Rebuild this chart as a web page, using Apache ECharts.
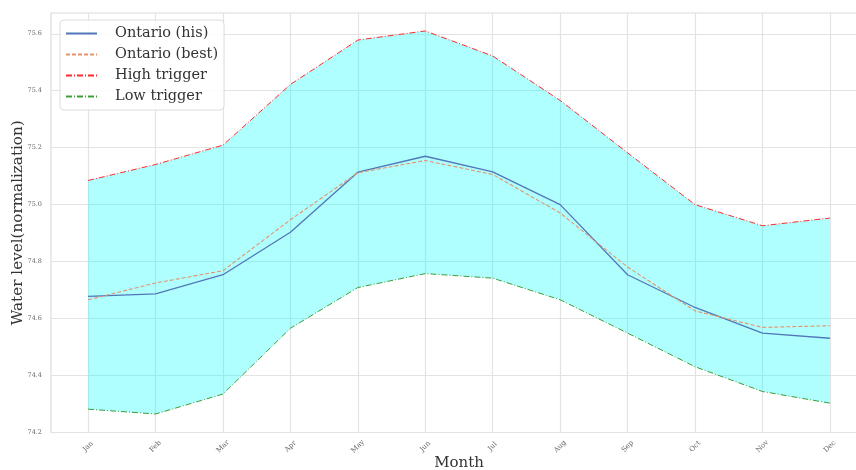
<!DOCTYPE html>
<html>
<head>
<meta charset="utf-8">
<title>Ontario water level</title>
<script src="https://cdn.jsdelivr.net/npm/echarts@6/dist/echarts.min.js"></script>
<style>
    html, body { margin: 0; padding: 0; background: #fff; }
    #levelChart { width: 856px; height: 470px; }
</style>
</head>
<body>
<div id="levelChart"></div>
<script>
// 月份
let months = ['Jan', 'Feb', 'Mar', 'Apr', 'May', 'Jun', 'Jul', 'Aug', 'Sep', 'Oct', 'Nov', 'Dec'];

// 水位数据
let ontarioHis  = [74.678, 74.687, 74.754, 74.903, 75.114, 75.170, 75.115, 75.000, 74.754, 74.639, 74.549, 74.531];
let ontarioBest = [74.666, 74.725, 74.768, 74.947, 75.112, 75.155, 75.106, 74.971, 74.781, 74.627, 74.569, 74.575];
let highTrigger = [75.085, 75.141, 75.209, 75.422, 75.578, 75.610, 75.522, 75.366, 75.182, 75.000, 74.926, 74.953];
let lowTrigger  = [74.282, 74.265, 74.335, 74.566, 74.709, 74.758, 74.742, 74.666, 74.549, 74.431, 74.344, 74.303];

// y 轴刻度
let yTicks = [74.2, 74.4, 74.6, 74.8, 75.0, 75.2, 75.4, 75.6];

function pairs(values) {
    return values.map(function (v, i) { return [i, v]; });
}

let monthIdx = months.map(function (m, i) { return i; });
let bandData = months.map(function (m, i) { return [i, lowTrigger[i], highTrigger[i]]; });

// 高低触发之间的填充, 整个多边形只画一次
function renderBand(params, api) {
    if (params.dataIndex !== 0) {
        return null;
    }
    let points = [];
    for (let i = 0; i < bandData.length; i++) {
        points.push(api.coord([bandData[i][0], bandData[i][2]]));
    }
    for (let i = bandData.length - 1; i >= 0; i--) {
        points.push(api.coord([bandData[i][0], bandData[i][1]]));
    }
    return {
        type: 'polygon',
        shape: { points: points },
        style: { fill: 'rgba(0,255,255,0.31)' },
        silent: true
    };
}

let serif = 'DejaVu Serif';
let myChart = echarts.init(document.getElementById('levelChart'));

let option = {
    backgroundColor: '#fff',
    animation: false,
    grid: {
        left: 51,
        top: 13,
        right: -11,
        bottom: 37.5,
        outerBoundsMode: 'none',
        show: true,
        borderColor: '#dcdcdc',
        borderWidth: 1.2,
        backgroundColor: '#fff'
    },
    legend: {
        orient: 'vertical',
        left: 60,
        top: 20,
        padding: [6, 6, 6, 5],
        itemGap: 6,
        itemWidth: 31,
        itemHeight: 16,
        itemStyle: { opacity: 0 },
        backgroundColor: 'rgba(255,255,255,0.85)',
        borderColor: '#dddddd',
        borderWidth: 1,
        borderRadius: 4,
        textStyle: {
            fontFamily: serif,
            fontSize: 14.5,
            color: '#333',
            padding: [0, 0, 0, 13]
        },
        data: ['Ontario (his)', 'Ontario (best)', 'High trigger', 'Low trigger']
    },
    xAxis: {
        type: 'value',
        min: -0.55,
        max: 11.55,
        name: 'Month',
        nameLocation: 'middle',
        nameMoveOverlap: false,
        nameGap: 23,
        nameTextStyle: { fontFamily: serif, fontSize: 15, color: '#333' },
        axisLine: { show: false },
        axisTick: { show: false, customValues: monthIdx },
        axisLabel: {
            customValues: monthIdx,
            rotate: 45,
            align: 'center',
            verticalAlign: 'middle',
            margin: 14,
            fontFamily: serif,
            fontSize: 7,
            color: '#666',
            formatter: function (v) { return months[Math.round(v)]; }
        },
        splitLine: { show: true, lineStyle: { color: '#e3e3e3', width: 1.2 } }
    },
    yAxis: {
        type: 'value',
        min: 74.2,
        max: 75.673,
        name: 'Water level(normalization)',
        nameLocation: 'middle',
        nameMoveOverlap: false,
        nameGap: 25,
        nameTextStyle: { fontFamily: serif, fontSize: 15.2, color: '#333' },
        axisLine: { show: false },
        axisTick: { show: false, customValues: yTicks },
        axisLabel: {
            customValues: yTicks,
            margin: 9,
            fontFamily: serif,
            fontSize: 6.5,
            color: '#666',
            formatter: function (v) { return v.toFixed(1); }
        },
        splitLine: { show: true, lineStyle: { color: '#e3e3e3', width: 1.2 } }
    },
    series: [
        {
            name: 'band',
            type: 'custom',
            renderItem: renderBand,
            data: bandData,
            silent: true,
            z: 1
        },
        {
            name: 'Ontario (his)',
            type: 'line',
            data: pairs(ontarioHis),
            symbol: 'none',
            color: '#5177b8',
            lineStyle: { color: '#5177b8', width: 1.3 },
            z: 5
        },
        {
            name: 'Ontario (best)',
            type: 'line',
            data: pairs(ontarioBest),
            symbol: 'none',
            color: '#e3946a',
            lineStyle: { color: '#e3946a', width: 1.1, type: [4, 2] },
            z: 5
        },
        {
            name: 'High trigger',
            type: 'line',
            data: pairs(highTrigger),
            symbol: 'none',
            color: '#ff2a2a',
            lineStyle: { color: '#ff2a2a', width: 1, type: [6, 2, 1, 2] },
            z: 5
        },
        {
            name: 'Low trigger',
            type: 'line',
            data: pairs(lowTrigger),
            symbol: 'none',
            color: '#3a9f3a',
            lineStyle: { color: '#3a9f3a', width: 1, type: [6, 2, 1, 2] },
            z: 5
        }
    ]
};

myChart.setOption(option);
</script>
</body>
</html>
